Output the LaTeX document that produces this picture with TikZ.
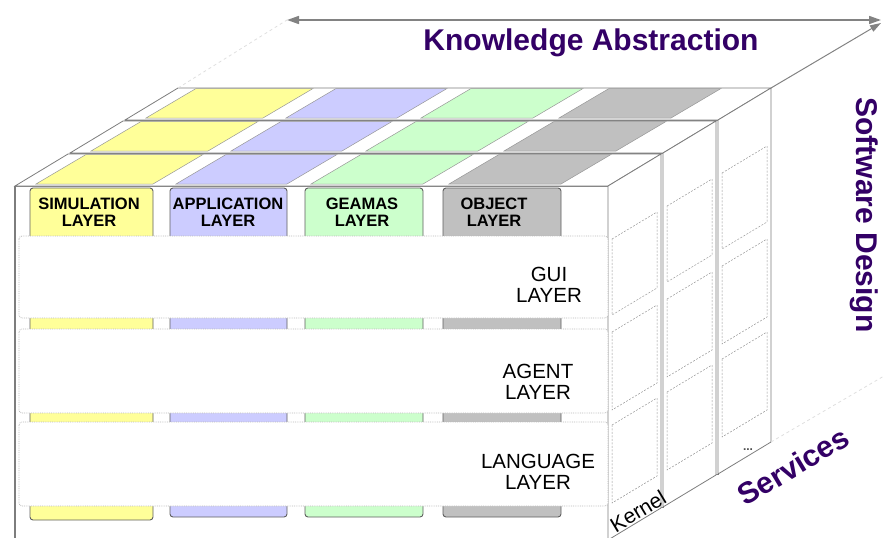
\documentclass[tikz,border=0pt]{standalone}
\usepackage{fontspec}
\setmainfont{Liberation Sans}
\usetikzlibrary{arrows.meta,calc}
\definecolor{cyel}{RGB}{255,255,153}
\definecolor{cblu}{RGB}{204,204,255}
\definecolor{cgrn}{RGB}{204,255,204}
\definecolor{cgry}{RGB}{192,192,192}
\definecolor{cpur}{RGB}{51,0,102}
\definecolor{edgec}{RGB}{125,125,125}
\definecolor{barc}{RGB}{95,95,95}
\definecolor{arrc}{RGB}{130,130,130}
\begin{document}
\begin{tikzpicture}[x=1pt,y=-1pt,
  face/.style={draw=edgec,fill=white,line width=0.8pt},
  topcell/.style={draw=edgec!80,line width=0.5pt},
  sidedash/.style={draw=edgec!80,dashed,line width=0.5pt,dash pattern=on 2pt off 1.5pt},
  colbar/.style={draw=barc,line width=0.9pt,rounded corners=3pt},
  layerbox/.style={draw=gray!55,fill=white,densely dotted,line width=0.8pt,rounded corners=3pt},
  tablabel/.style={align=center,inner sep=0pt,font=\fontsize{16.5}{17}\selectfont\bfseries},
  layerlabel/.style={align=center,inner sep=0pt,font=\fontsize{20.5}{21}\selectfont},
  axislabel/.style={inner sep=0pt,text=cpur,font=\fontsize{30}{34}\selectfont\bfseries},
  axisarrow/.style={draw=arrc,line width=1.6pt},
  faint/.style={draw=gray!25,dashed,line width=0.8pt}
]
\useasboundingbox (0,0) rectangle (884,538);

% slabs, back to front
\foreach \k in {2,1,0}{
  \begin{scope}[shift={(55*\k,-33*\k)}]
    \draw[face] (15,186) rectangle (608,540);
    \draw[face] (15,186) -- (608,186) -- (661,154) -- (68,154) -- cycle;
    \draw[face] (608,186) -- (661,154) -- (661,508) -- (608,540) -- cycle;
    \foreach \a/\b/\c in {30/153/cyel,170/287/cblu,305/423/cgrn,443/561/cgry}{
      \filldraw[topcell,fill=\c] (\a+6,184) -- (\b,184) -- (\b+50,154.5) -- (\a+56,154.5) -- cycle;
    }
    \foreach \ya/\yb in {236/318,329/413,422/506}{
      \draw[sidedash] (612,\ya+3) -- (657,\ya-24) -- (657,\yb-30) -- (612,\yb-3) -- cycle;
    }
  \end{scope}
}

% front face left edge, a little heavier
\draw[draw=edgec,line width=1.4pt] (15,186) -- (15,540);

% column bars on the front face
\draw[colbar,fill=cyel] (30,188) rectangle (153,520);
\draw[colbar,fill=cblu] (170,188) rectangle (287,517);
\draw[colbar,fill=cgrn] (305,188) rectangle (423,517);
\draw[colbar,fill=cgry] (443,188) rectangle (561,517);

% layer boxes
\draw[layerbox] (19,236) rectangle (608,318);
\draw[layerbox] (19,329) rectangle (608,413);
\draw[layerbox] (19,422) rectangle (608,506);

% tab labels
\node[tablabel] (sim) at (89,212) {SIMULATION\\LAYER};
\node[tablabel] (app) at (228,212) {APPLICATION\\LAYER};
\node[tablabel] (gea) at (362,212) {GEAMAS\\LAYER};
\node[tablabel] (obj) at (494,212) {OBJECT\\LAYER};

% layer labels
\node[layerlabel] (gui) at (549,285) {GUI\\LAYER};
\node[layerlabel] (agent) at (538,382) {AGENT\\LAYER};
\node[layerlabel] (lang) at (538,472) {LANGUAGE\\LAYER};

% slab labels
\node[inner sep=0pt,rotate=31,font=\fontsize{21}{23}\selectfont] (kernel) at (638,511) {Kernel};
\node[inner sep=0pt,font=\fontsize{12}{12}\selectfont\bfseries,text=black!70] (dots) at (748,450) {...};

% axes
\coordinate (kaL) at (287,20);
\coordinate (kaR) at (881,20);
\coordinate (boxTL) at (178,88);
\coordinate (boxTR) at (771,88);
\coordinate (boxBR) at (771,442);
\coordinate (svEnd) at (884,376);
\coordinate (sdTip) at (881,23);
\draw[faint] (boxTL) -- (kaL);
\draw[faint] (boxBR) -- (svEnd);
\draw[axisarrow,{Triangle[length=12pt,width=8pt]}-{Triangle[length=12pt,width=8pt]}] (kaL) -- (kaR);
\draw[draw=arrc,line width=1pt,-{Triangle[length=11pt,width=7pt]}] (boxTR) -- (sdTip);

\node[axislabel,anchor=base] (ka) at (591,50) {Knowledge Abstraction};
\node[axislabel,rotate=-90] (sd) at (864,215) {Software Design};
\node[axislabel,rotate=31] (sv) at (793,466) {Services};
\end{tikzpicture}
\end{document}
